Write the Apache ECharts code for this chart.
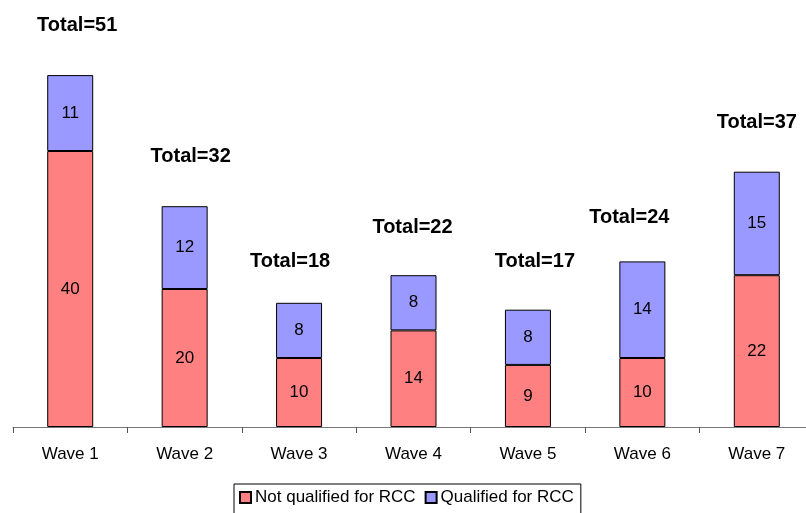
<!DOCTYPE html>
<html lang="en">
<head>
    <meta charset="UTF-8">
    <title>Waves</title>
    <style>
        * { padding: 0; margin: 0; }
        #chart { width: 806px; height: 513px; }
    </style>
    <script src="https://cdn.jsdelivr.net/npm/echarts@6.0.0/dist/echarts.min.js"></script>
</head>
<body>
<div id="chart"></div>
<script>
    // data
    const waves = ['Wave 1', 'Wave 2', 'Wave 3', 'Wave 4', 'Wave 5', 'Wave 6', 'Wave 7']
    const notQualified = [40, 20, 10, 14, 9, 10, 22]
    const qualified = [11, 12, 8, 8, 8, 14, 15]
    const totals = [51, 32, 18, 22, 17, 24, 37]

    // the "Total=" boxes were placed by hand in the original, nudge them the same way
    const totalNudge = [[7, -35], [6, -35], [-9, -26], [-1, -33], [7, -33], [-13, -29], [0, -34]]

    const font = 'Liberation Sans, Arial, sans-serif'
    let chart = echarts.init(document.getElementById('chart'))

    let option = {
        animation: false,
        backgroundColor: '#fff',
        textStyle: { fontFamily: font },
        // axis runs past the right edge like in the original
        grid: { left: 13, width: 801, top: 13, bottom: 86, outerBoundsMode: 'none', containLabel: false },
        legend: {
            top: 484,
            left: 234,
            itemWidth: 11,
            itemHeight: 11,
            itemGap: 9,
            icon: 'rect',
            borderColor: '#000',
            borderWidth: 1,
            borderRadius: 0,
            padding: [5, 7, 12, 5],
            textStyle: { fontSize: 17, color: '#000', fontFamily: font, padding: [0, 0, 0, -1] },
            data: ['Not qualified for RCC', 'Qualified for RCC']
        },
        xAxis: {
            type: 'category',
            data: waves,
            axisLine: { lineStyle: { color: '#777', width: 1 } },
            axisTick: { show: true, length: 6, lineStyle: { color: '#555' } },
            axisLabel: { fontSize: 17, color: '#000', margin: 19, fontFamily: font }
        },
        yAxis: {
            type: 'value',
            min: 0,
            max: 60,
            show: false,
            splitLine: { show: false }
        },
        series: [
            {
                name: 'Not qualified for RCC',
                type: 'bar',
                stack: 'all',
                barWidth: 46,
                data: notQualified,
                itemStyle: { color: '#FF8080', borderColor: '#000', borderWidth: 1 },
                label: { show: true, position: 'inside', color: '#000', fontSize: 17, fontFamily: font }
            },
            {
                name: 'Qualified for RCC',
                type: 'bar',
                stack: 'all',
                barWidth: 46,
                data: qualified,
                itemStyle: { color: '#9999FF', borderColor: '#000', borderWidth: 1 },
                label: { show: true, position: 'inside', color: '#000', fontSize: 17, fontFamily: font }
            },
            {
                // invisible series carrying the total labels
                name: 'total',
                type: 'bar',
                stack: 'all',
                barWidth: 46,
                data: totals.map((t, i) => ({ value: 0, label: { offset: totalNudge[i] } })),
                itemStyle: { color: 'transparent' },
                label: {
                    show: true,
                    position: 'top',
                    color: '#000',
                    fontSize: 20,
                    fontWeight: 'bold',
                    fontFamily: font,
                    formatter: p => 'Total=' + totals[p.dataIndex]
                }
            }
        ]
    }
    chart.setOption(option)
</script>
</body>
</html>
